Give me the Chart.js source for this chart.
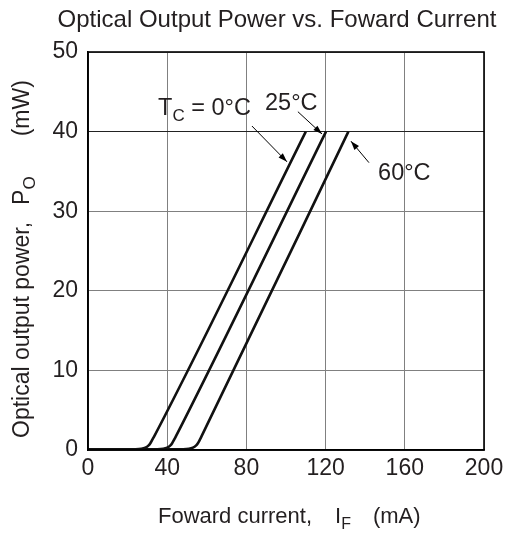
<!DOCTYPE html>
<html>
<head>
<meta charset="utf-8">
<script src="https://cdn.jsdelivr.net/npm/chart.js@4.4.1/dist/chart.umd.min.js"></script>
<style>
  html, body { margin: 0; padding: 0; background: #ffffff; }
  #wrap { width: 506px; height: 536px; }
</style>
</head>
<body>
<div id="wrap"><canvas id="c" width="506" height="536"></canvas></div>
<script>
// ---- data ----
const seriesLabels = ["0°C", "25°C", "60°C"];
const current0  = [0, 24, 27, 29, 30.5, 31.5, 32.5, 33.5, 110];
const power0    = [0.1, 0.1, 0.15, 0.3, 0.55, 0.85, 1.3, 1.75, 40];
const current25 = [0, 35, 38, 40, 41.5, 42.5, 43.5, 44.5, 120.2];
const power25   = [0.1, 0.1, 0.15, 0.3, 0.55, 0.85, 1.3, 1.77, 40];
const current60 = [0, 48, 51, 53, 54.5, 55.5, 56.5, 57.5, 131.5];
const power60   = [0.1, 0.1, 0.15, 0.3, 0.55, 0.85, 1.3, 1.8, 40];
const xTicks = [0, 40, 80, 120, 160, 200];
const yTicks = [0, 10, 20, 30, 40, 50];

// annotation anchors, in data units (current mA, power mW)
const arrow0  = [[82.8, 40.7], [100.5, 36.2]];
const arrow25 = [[106, 42.5], [118.2, 39.7]];
const arrow60 = [[141.9, 36.1], [132.8, 38.8]];
const label0pos  = [35.4, 42.1];
const label25pos = [89.4, 42.7];
const label60pos = [146.5, 33.9];

const FONT = '"Liberation Sans", Arial, Helvetica, sans-serif';
const TXT = '#231f20';

function pts(xs, ys) { return xs.map((x, i) => ({ x: x, y: ys[i] })); }

// parts: [text, isSub] or a number (extra gap in px)
function drawParts(ctx, parts, x, y, size, subSize, align) {
  const widths = parts.map(p => {
    if (typeof p === 'number') return p;
    ctx.font = (p[1] ? subSize : size) + 'px ' + FONT;
    return ctx.measureText(p[0]).width;
  });
  const total = widths.reduce((a, b) => a + b, 0);
  let cx = align === 'center' ? x - total / 2 : x;
  parts.forEach((p, i) => {
    if (typeof p !== 'number') {
      ctx.font = (p[1] ? subSize : size) + 'px ' + FONT;
      ctx.fillText(p[0], cx, y + (p[1] ? size * 0.25 : 0));
    }
    cx += widths[i];
  });
}

function arrow(ctx, x1, y1, x2, y2) {
  ctx.beginPath();
  ctx.moveTo(x1, y1);
  ctx.lineTo(x2, y2);
  ctx.lineWidth = 1;
  ctx.strokeStyle = '#000';
  ctx.stroke();
  const a = Math.atan2(y2 - y1, x2 - x1);
  const L = 9, W = 3;
  ctx.beginPath();
  ctx.moveTo(x2, y2);
  ctx.lineTo(x2 - L * Math.cos(a) + W * Math.sin(a), y2 - L * Math.sin(a) - W * Math.cos(a));
  ctx.lineTo(x2 - L * Math.cos(a) - W * Math.sin(a), y2 - L * Math.sin(a) + W * Math.cos(a));
  ctx.closePath();
  ctx.fillStyle = '#000';
  ctx.fill();
}

const textPlugin = {
  id: 'texts',
  afterDraw(chart) {
    const ctx = chart.ctx;
    const xs = chart.scales.x, ys = chart.scales.y;
    const ca = chart.chartArea;
    ctx.save();
    // frame
    ctx.strokeStyle = '#000';
    ctx.lineWidth = 1.6;
    ctx.strokeRect(ca.left, ca.top, ca.right - ca.left, ca.bottom - ca.top);

    ctx.fillStyle = TXT;
    ctx.textBaseline = 'alphabetic';
    ctx.textAlign = 'left';
    // title
    drawParts(ctx, [['Optical Output Power vs. Foward Current', false]], 277, 27, 24, 16, 'center');
    // x title
    drawParts(ctx, [['Foward current,', false], 23, ['I', false], ['F', true], 22, ['(mA)', false]], 158, 523, 22, 16, 'left');
    // y title (rotated, reading bottom to top)
    ctx.save();
    ctx.translate(29, 438);
    ctx.rotate(-Math.PI / 2);
    drawParts(ctx, [['Optical output power,', false], 17, ['P', false], ['O', true], 40, ['(mW)', false]], 0, 0, 23, 17, 'left');
    ctx.restore();

    // annotations
    const px = p => [xs.getPixelForValue(p[0]), ys.getPixelForValue(p[1])];
    let a, b;
    a = px(arrow0[0]); b = px(arrow0[1]); arrow(ctx, a[0], a[1], b[0], b[1]);
    a = px(arrow25[0]); b = px(arrow25[1]); arrow(ctx, a[0], a[1], b[0], b[1]);
    a = px(arrow60[0]); b = px(arrow60[1]); arrow(ctx, a[0], a[1], b[0], b[1]);
    ctx.fillStyle = TXT;
    let p = px(label0pos);
    drawParts(ctx, [['T', false], ['C', true], [' = ' + seriesLabels[0], false]], p[0], p[1], 23.5, 17, 'left');
    p = px(label25pos);
    drawParts(ctx, [[seriesLabels[1], false]], p[0], p[1], 23.5, 17, 'left');
    p = px(label60pos);
    drawParts(ctx, [[seriesLabels[2], false]], p[0], p[1], 23.5, 17, 'left');
    ctx.restore();
  }
};

const lineStyle = {
  borderColor: '#111',
  borderWidth: 2.6,
  pointRadius: 0,
  fill: false,
  cubicInterpolationMode: 'monotone'
};

new Chart(document.getElementById('c'), {
  type: 'line',
  data: {
    datasets: [
      Object.assign({ label: seriesLabels[0], data: pts(current0, power0) }, lineStyle),
      Object.assign({ label: seriesLabels[1], data: pts(current25, power25) }, lineStyle),
      Object.assign({ label: seriesLabels[2], data: pts(current60, power60) }, lineStyle)
    ]
  },
  options: {
    responsive: false,
    animation: false,
    devicePixelRatio: 1,
    layout: { padding: { left: 0, right: 22, top: 52, bottom: 0 } },
    plugins: { legend: { display: false }, tooltip: { enabled: false }, title: { display: false } },
    scales: {
      x: {
        type: 'linear', min: 0, max: 200,
        afterBuildTicks: s => { s.ticks = xTicks.map(v => ({ value: v })); },
        afterFit: s => { s.height = 86; s.paddingLeft = 0; s.paddingRight = 0; },
        ticks: { font: { size: 23, family: FONT }, color: TXT, padding: 5, maxRotation: 0 },
        grid: { drawTicks: false, color: '#808080', lineWidth: 1 },
        border: { display: true, color: '#000', width: 1.6 }
      },
      y: {
        type: 'linear', min: 0, max: 50,
        afterBuildTicks: s => { s.ticks = yTicks.map(v => ({ value: v })); },
        afterFit: s => { s.width = 88; s.paddingTop = 0; s.paddingBottom = 0; },
        ticks: { font: { size: 23, family: FONT }, color: TXT, padding: 10 },
        grid: {
          drawTicks: false, lineWidth: 1,
          color: c => (c.tick && c.tick.value === 40) ? '#222' : '#808080'
        },
        border: { display: true, color: '#000', width: 1.6 }
      }
    }
  },
  plugins: [textPlugin]
});
</script>
</body>
</html>
